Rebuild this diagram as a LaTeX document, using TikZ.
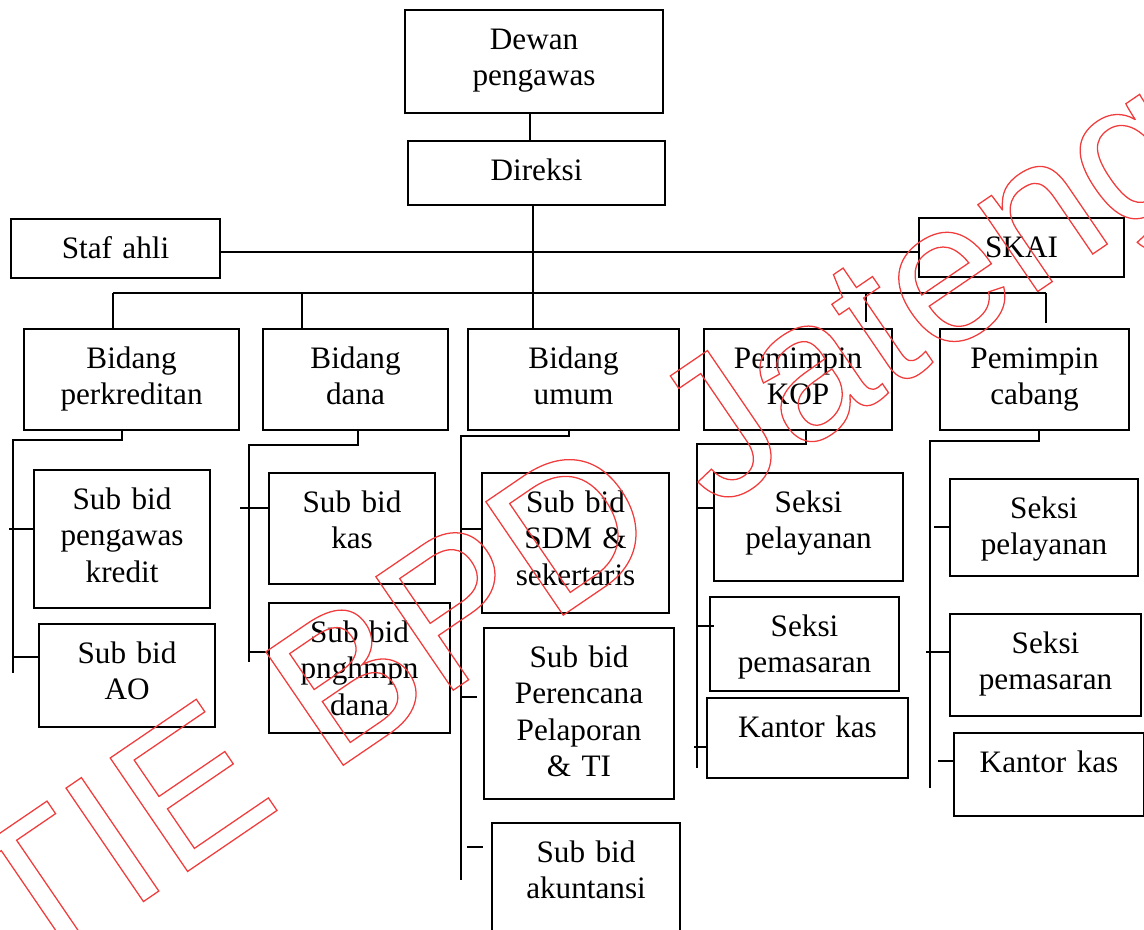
\documentclass[tikz,border=0pt]{standalone}
\usepackage{fontspec}
\setmainfont{Liberation Serif}
\newfontfamily\wmfamily{Liberation Sans}
\usepackage{tikz}
\usetikzlibrary{positioning}

\definecolor{wmred}{RGB}{240,60,60}
\newcommand\orgfont{\fontsize{11.1pt}{13pt}\selectfont}
\newcommand\outlinetext[1]{\special{pdf:literal direct 1 Tr 0.45 w}#1\special{pdf:literal direct 0 Tr}}

\tikzset{
  unit/.style 2 args={draw, line width=0.75pt, inner sep=0pt, anchor=north west,
    align=center, font=\orgfont, text height=4.875mm, text width=#1, text depth=#2},
  link/.style={line width=0.75pt},
  wmark/.style={inner sep=0pt, anchor=base west, color=wmred, font=\wmfamily\fontsize{71pt}{71pt}\selectfont}
}

\begin{document}
\begin{tikzpicture}[x=0.125mm, y=0.125mm]
		\useasboundingbox (0,0) rectangle (1144,-929);

		% top
		\node[unit={32.25mm}{8mm}]       (dewan)   at (404,-9)   {Dewan\\pengawas};
		\node[unit={32.125mm}{3.125mm}]  (direksi) at (407,-140) {Direksi};
		\node[unit={26.125mm}{2.5mm}]    (staf)    at (10,-218)  {Staf ahli};
		\node[unit={25.625mm}{2.5mm}]    (skai)    at (918,-217) {SKAI};

		% bidang
		\node[unit={26.875mm}{7.75mm}] (bkredit) at (23,-328)  {Bidang\\perkreditan};
		\node[unit={23.125mm}{7.75mm}] (bdana)   at (262,-328) {Bidang\\dana};
		\node[unit={26.375mm}{7.75mm}] (bumum)   at (467,-328) {Bidang\\umum};
		\node[unit={23.5mm}{7.75mm}]   (kop)     at (703,-328) {Pemimpin\\KOP};
		\node[unit={23.625mm}{7.75mm}] (cabang)  at (939,-328) {Pemimpin\\cabang};

		% sub bidang / seksi
		\node[unit={22mm}{12.375mm}]    (skredit)  at (33,-469)  {Sub bid\\pengawas\\kredit};
		\node[unit={22mm}{8mm}]         (sao)      at (38,-623)  {Sub bid\\AO};
		\node[unit={20.75mm}{9mm}]      (skas)     at (268,-472) {Sub bid\\kas};
		\node[unit={22.625mm}{11.375mm}](spnghmpn) at (268,-602) {Sub bid\\pnghmpn\\dana};
		\node[unit={23.375mm}{12.625mm}](ssdm)     at (481,-472) {Sub bid\\SDM \&\\sekertaris};
		\node[unit={23.75mm}{16.5mm}]   (srencana) at (483,-627) {Sub bid\\Perencana\\Pelaporan\\\& TI};
		\node[unit={23.5mm}{12.375mm}]  (sakun)    at (491,-822) {Sub bid\\akuntansi};
		\node[unit={23.625mm}{8.625mm}] (kpelayanan) at (713,-472) {Seksi\\pelayanan};
		\node[unit={23.625mm}{6.875mm}] (kpemasaran) at (709,-596) {Seksi\\pemasaran};
		\node[unit={25.125mm}{5.125mm}] (kkas)       at (706,-697) {Kantor kas};
		\node[unit={23.5mm}{7.25mm}]    (cpelayanan) at (949,-478) {Seksi\\pelayanan};
		\node[unit={23.875mm}{7.875mm}] (cpemasaran) at (949,-613) {Seksi\\pemasaran};
		\node[unit={23.75mm}{5.5mm}]    (ckas)       at (953,-732) {Kantor kas};

		% lines
		\draw[link] (dewan.south -| 530,0) -- (direksi.north -| 530,0);
		\draw[link] (direksi.south -| 533,0) -- (bumum.north -| 533,0);
		\draw[link] (staf.east |- 0,-252) -- (skai.west |- 0,-252);
		\coordinate (barl) at (113,-293);
		\coordinate (barr) at (1046,-293);
		\draw[link] (barl) -- (barr);
		\draw[link] (barl) -- (bkredit.north -| barl);
		\draw[link] (barl -| 302,0) -- (bdana.north -| 302,0);
		\draw[link] (barl -| 866,0) -- ++(0,-29);
		\draw[link] (barr) -- ++(0,-30);

		\coordinate (krtrunk) at (13,-440);
		\draw[link] (bkredit.south -| 122,0) |- (krtrunk) -- ++(0,-233);
		\draw[link] (skredit.west |- 0,-529) -- ++(-24,0);
		\draw[link] (sao.west |- 0,-657) -- (krtrunk |- 0,-657);

		\coordinate (dntrunk) at (249,-445);
		\draw[link] (bdana.south -| 358,0) |- (dntrunk) -- ++(0,-217);
		\draw[link] (skas.west |- 0,-508) -- ++(-28,0);
		\draw[link] (spnghmpn.west |- 0,-652) -- (dntrunk |- 0,-652);

		\coordinate (umtrunk) at (461,-436);
		\draw[link] (bumum.south -| 569,0) |- (umtrunk) -- ++(0,-444);
		\draw[link] (umtrunk |- 0,-529) -- (ssdm.west |- 0,-529);
		\draw[link] (umtrunk |- 0,-697) -- ++(16,0);
		\draw[link] (umtrunk |- 0,-847) ++(6,0) -- ++(16,0);

		\coordinate (kptrunk) at (697,-444);
		\draw[link] (kop.south -| 806,0) |- (kptrunk) -- ++(0,-324);
		\draw[link] (kptrunk |- 0,-508) -- (kpelayanan.west |- 0,-508);
		\draw[link] (kptrunk |- 0,-626) -- ++(17,0);
		\draw[link] (kkas.west |- 0,-747) -- ++(-12,0);

		\coordinate (cbtrunk) at (930,-441);
		\draw[link] (cabang.south -| 1039,0) |- (cbtrunk) -- ++(0,-347);
		\draw[link] (cpelayanan.west |- 0,-527) -- ++(-15,0);
		\draw[link] (cpemasaran.west |- 0,-652) -- ++(-23,0);
		\draw[link] (ckas.west |- 0,-761) -- ++(-15,0);

		% watermark
		\node[wmark, rotate=34.3] (wm) at (-83,-1056) {\outlinetext{STIE BPD Jateng}};
	\end{tikzpicture}
\end{document}
